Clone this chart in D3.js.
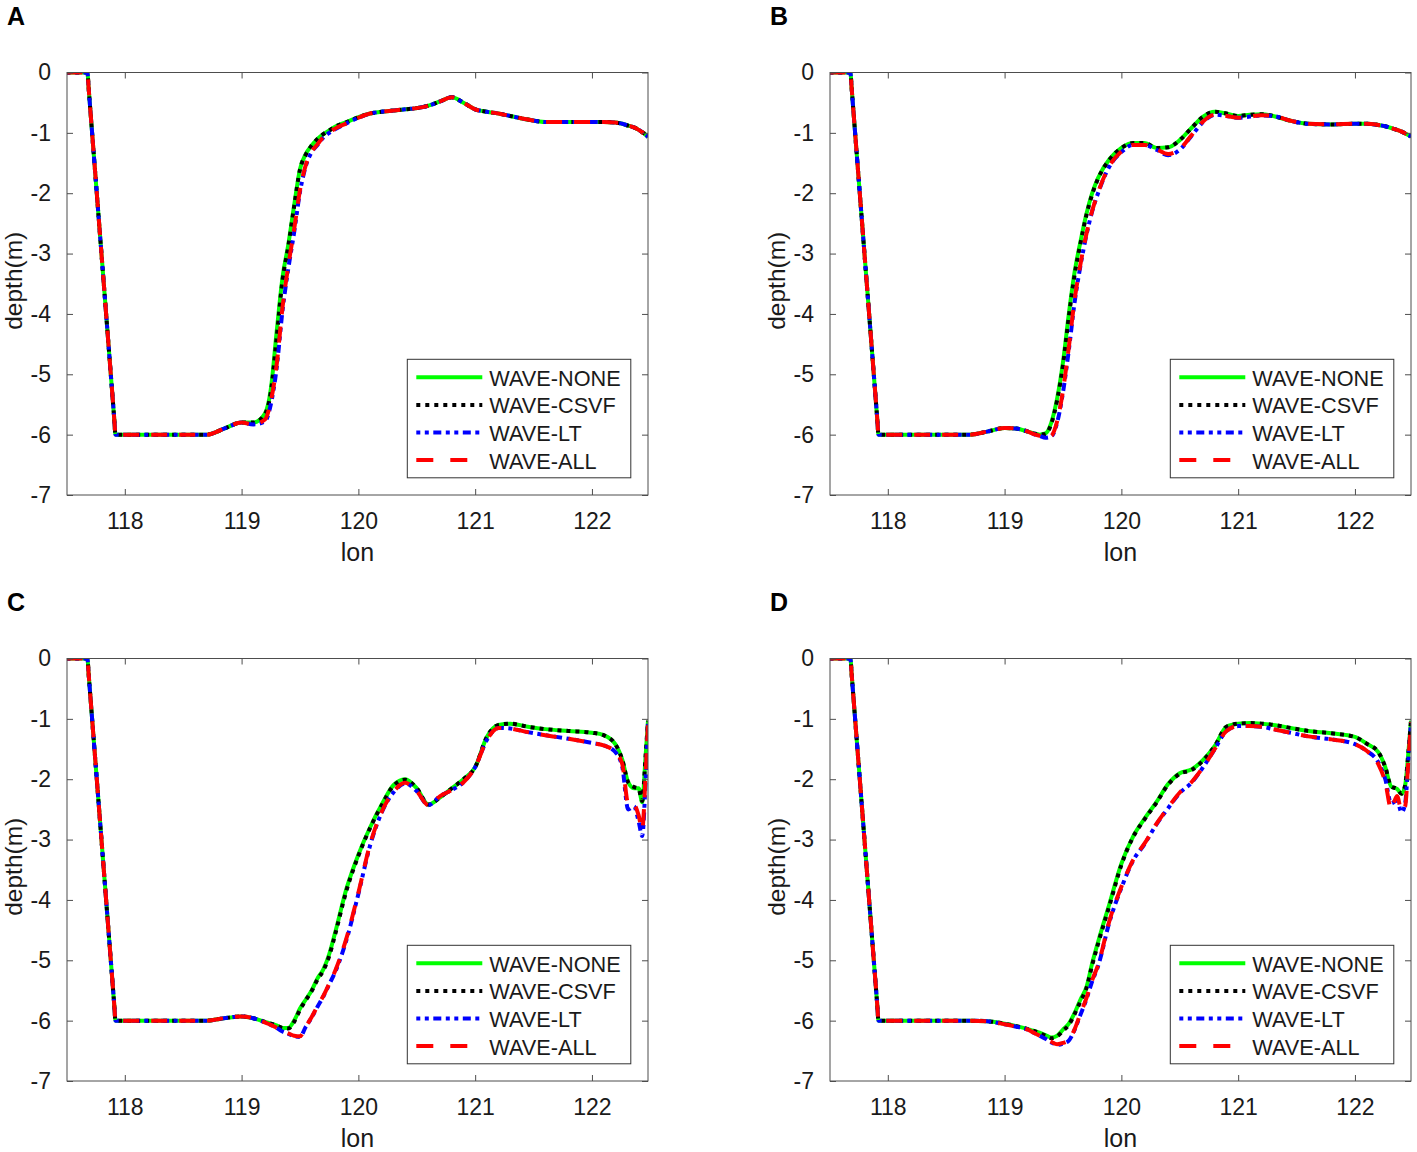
<!DOCTYPE html>
<html><head><meta charset="utf-8">
<script src="https://cdn.jsdelivr.net/npm/d3@7"></script>
<style>
body{margin:0;background:#fff;}
text{font-family:"Liberation Sans",Arial,Helvetica,sans-serif;}
</style></head>
<body>
<svg id="chart" width="1417" height="1152"></svg>
<script>
// ---------- data ----------
const lon = [117.50,117.68,117.69,117.91,117.92,118.30,118.70,118.85,119.00,119.10,
  119.20,119.25,119.30,119.35,119.40,119.45,119.50,119.55,119.60,119.65,
  119.70,119.75,119.80,119.90,120.00,120.10,120.20,120.30,120.40,120.50,
  120.60,120.70,120.80,120.90,121.00,121.10,121.20,121.30,121.45,121.60,
  121.80,122.00,122.10,122.20,122.26,122.31,122.36,122.40,122.43,122.46,122.48];

const xTicks = [118,119,120,121,122];
const yTicks = [0,-1,-2,-3,-4,-5,-6,-7];
const seriesNames = ["WAVE-NONE","WAVE-CSVF","WAVE-LT","WAVE-ALL"];
const panelLabels = ["A","B","C","D"];

// Panel A
const A_none = [0,0,-0.25,-5.75,-6,-6,-6,-5.9,-5.8,-5.8,
  -5.65,-5.25,-4.3,-3.4,-2.85,-2.2,-1.6,-1.35,-1.21,-1.1,
  -1.02,-0.96,-0.9,-0.82,-0.74,-0.68,-0.65,-0.63,-0.61,-0.59,
  -0.55,-0.48,-0.41,-0.5,-0.61,-0.65,-0.68,-0.72,-0.78,-0.82,
  -0.82,-0.82,-0.82,-0.83,-0.85,-0.88,-0.91,-0.95,-0.99,-1.03,-1.07];
const A_csvf = [0,0,-0.25,-5.75,-6,-6,-6,-5.9,-5.8,-5.8,
  -5.66,-5.3,-4.4,-3.45,-2.88,-2.22,-1.61,-1.36,-1.21,-1.1,
  -1.02,-0.96,-0.9,-0.82,-0.74,-0.68,-0.65,-0.63,-0.61,-0.59,
  -0.55,-0.48,-0.41,-0.5,-0.61,-0.65,-0.68,-0.72,-0.78,-0.82,
  -0.82,-0.82,-0.82,-0.83,-0.85,-0.88,-0.91,-0.95,-0.99,-1.03,-1.07];
const A_lt = [0,0,-0.25,-5.75,-6,-6,-6,-5.9,-5.8,-5.83,
  -5.78,-5.5,-4.9,-3.95,-3.25,-2.65,-1.98,-1.55,-1.32,-1.2,
  -1.08,-1.0,-0.94,-0.84,-0.75,-0.68,-0.65,-0.63,-0.61,-0.59,
  -0.55,-0.48,-0.41,-0.5,-0.61,-0.65,-0.68,-0.72,-0.78,-0.82,
  -0.82,-0.82,-0.82,-0.83,-0.85,-0.88,-0.91,-0.95,-0.99,-1.03,-1.07];
const A_all = [0,0,-0.25,-5.75,-6,-6,-6,-5.9,-5.8,-5.83,
  -5.75,-5.45,-4.85,-3.9,-3.2,-2.6,-1.95,-1.53,-1.31,-1.19,
  -1.07,-0.99,-0.93,-0.84,-0.75,-0.68,-0.65,-0.63,-0.61,-0.59,
  -0.55,-0.48,-0.41,-0.5,-0.61,-0.65,-0.68,-0.72,-0.78,-0.82,
  -0.82,-0.82,-0.82,-0.83,-0.85,-0.88,-0.91,-0.95,-0.99,-1.03,-1.07];

// Panel B
const B_none = [0,0,-0.25,-5.75,-6,-6,-6,-5.95,-5.89,-5.9,
  -5.95,-5.98,-6.0,-5.98,-5.8,-5.4,-4.8,-4.0,-3.3,-2.8,
  -2.35,-2.0,-1.75,-1.43,-1.25,-1.17,-1.17,-1.25,-1.24,-1.12,
  -0.92,-0.73,-0.65,-0.68,-0.72,-0.7,-0.69,-0.72,-0.8,-0.85,
  -0.86,-0.85,-0.85,-0.87,-0.89,-0.92,-0.95,-0.98,-1.01,-1.04,-1.06];
const B_csvf = [0,0,-0.25,-5.75,-6,-6,-6,-5.95,-5.89,-5.9,
  -5.95,-5.98,-6.0,-5.99,-5.82,-5.43,-4.85,-4.05,-3.35,-2.83,
  -2.37,-2.02,-1.76,-1.44,-1.25,-1.17,-1.17,-1.25,-1.24,-1.12,
  -0.92,-0.73,-0.65,-0.68,-0.72,-0.7,-0.69,-0.72,-0.8,-0.85,
  -0.86,-0.85,-0.85,-0.87,-0.89,-0.92,-0.95,-0.98,-1.01,-1.04,-1.06];
const B_lt = [0,0,-0.25,-5.75,-6,-6,-6,-5.95,-5.89,-5.9,
  -5.95,-5.99,-6.02,-6.05,-6.03,-5.8,-5.3,-4.6,-3.8,-3.2,
  -2.7,-2.3,-2.0,-1.55,-1.32,-1.2,-1.2,-1.28,-1.37,-1.28,
  -1.05,-0.82,-0.7,-0.72,-0.75,-0.73,-0.71,-0.72,-0.8,-0.85,
  -0.86,-0.85,-0.85,-0.87,-0.89,-0.92,-0.95,-0.98,-1.01,-1.04,-1.06];
const B_all = [0,0,-0.25,-5.75,-6,-6,-6,-5.95,-5.89,-5.9,
  -5.95,-5.99,-6.02,-6.05,-6.02,-5.78,-5.27,-4.55,-3.76,-3.17,
  -2.68,-2.29,-1.99,-1.54,-1.31,-1.2,-1.2,-1.27,-1.35,-1.27,
  -1.04,-0.81,-0.7,-0.72,-0.75,-0.73,-0.71,-0.72,-0.8,-0.85,
  -0.86,-0.85,-0.85,-0.87,-0.89,-0.92,-0.95,-0.98,-1.01,-1.04,-1.06];

// Panel C
const C_none = [0,0,-0.25,-5.75,-6,-6,-6,-5.96,-5.93,-5.96,
  -6.02,-6.05,-6.08,-6.12,-6.12,-6.0,-5.8,-5.65,-5.5,-5.3,
  -5.15,-4.9,-4.55,-3.8,-3.25,-2.8,-2.42,-2.1,-2.0,-2.15,
  -2.42,-2.3,-2.15,-2.0,-1.8,-1.3,-1.1,-1.08,-1.13,-1.17,
  -1.2,-1.23,-1.27,-1.42,-1.68,-2.05,-2.15,-2.15,-2.38,-1.6,-1.03];
const C_csvf = [0,0,-0.25,-5.75,-6,-6,-6,-5.96,-5.93,-5.96,
  -6.02,-6.05,-6.08,-6.12,-6.13,-6.02,-5.82,-5.66,-5.51,-5.32,
  -5.17,-4.93,-4.58,-3.83,-3.27,-2.81,-2.43,-2.11,-2.01,-2.15,
  -2.42,-2.3,-2.15,-2.0,-1.8,-1.3,-1.1,-1.08,-1.13,-1.17,
  -1.2,-1.23,-1.27,-1.42,-1.68,-2.05,-2.13,-2.16,-2.36,-1.6,-1.03];
const C_lt = [0,0,-0.25,-5.75,-6,-6,-6,-5.96,-5.93,-5.96,
  -6.03,-6.07,-6.12,-6.18,-6.22,-6.26,-6.27,-6.1,-5.95,-5.77,
  -5.6,-5.4,-5.2,-4.65,-3.9,-3.1,-2.55,-2.22,-2.07,-2.2,
  -2.43,-2.28,-2.18,-2.05,-1.8,-1.35,-1.15,-1.16,-1.22,-1.27,
  -1.33,-1.4,-1.44,-1.55,-1.8,-2.5,-2.45,-2.7,-2.94,-2.0,-1.03];
const C_all = [0,0,-0.25,-5.75,-6,-6,-6,-5.96,-5.93,-5.96,
  -6.03,-6.07,-6.12,-6.17,-6.21,-6.25,-6.26,-6.1,-5.94,-5.76,
  -5.59,-5.39,-5.18,-4.62,-3.88,-3.08,-2.54,-2.21,-2.06,-2.2,
  -2.43,-2.28,-2.18,-2.05,-1.8,-1.35,-1.15,-1.16,-1.22,-1.27,
  -1.33,-1.4,-1.44,-1.55,-1.75,-2.4,-2.42,-2.6,-2.83,-1.9,-1.05];

// Panel D
const D_none = [0,0,-0.25,-5.75,-6,-6,-6,-6.01,-6.05,-6.09,
  -6.14,-6.17,-6.2,-6.24,-6.28,-6.25,-6.15,-6.05,-5.87,-5.65,
  -5.45,-5.05,-4.7,-4.05,-3.4,-2.95,-2.65,-2.38,-2.08,-1.9,
  -1.84,-1.68,-1.45,-1.13,-1.08,-1.07,-1.08,-1.1,-1.15,-1.2,
  -1.24,-1.3,-1.41,-1.55,-1.8,-2.12,-2.16,-2.24,-2.1,-1.5,-1.03];
const D_csvf = [0,0,-0.25,-5.75,-6,-6,-6,-6.01,-6.05,-6.09,
  -6.14,-6.17,-6.21,-6.25,-6.29,-6.26,-6.17,-6.07,-5.89,-5.68,
  -5.47,-5.08,-4.73,-4.08,-3.42,-2.96,-2.66,-2.39,-2.09,-1.91,
  -1.85,-1.69,-1.45,-1.13,-1.08,-1.07,-1.08,-1.1,-1.15,-1.2,
  -1.24,-1.3,-1.41,-1.55,-1.8,-2.12,-2.16,-2.24,-2.1,-1.5,-1.03];
const D_lt = [0,0,-0.25,-5.75,-6,-6,-6,-6.01,-6.06,-6.1,
  -6.15,-6.2,-6.25,-6.3,-6.36,-6.4,-6.38,-6.33,-6.15,-5.9,
  -5.65,-5.35,-5.1,-4.35,-3.8,-3.35,-3.07,-2.75,-2.48,-2.23,
  -2.06,-1.8,-1.5,-1.2,-1.12,-1.12,-1.13,-1.17,-1.23,-1.29,
  -1.34,-1.42,-1.53,-1.72,-2.0,-2.4,-2.35,-2.55,-2.4,-1.6,-1.05];
const D_all = [0,0,-0.25,-5.75,-6,-6,-6,-6.01,-6.06,-6.1,
  -6.15,-6.2,-6.25,-6.3,-6.35,-6.39,-6.37,-6.32,-6.14,-5.88,
  -5.63,-5.33,-5.08,-4.33,-3.78,-3.34,-3.06,-2.74,-2.47,-2.22,
  -2.05,-1.8,-1.5,-1.2,-1.12,-1.12,-1.13,-1.17,-1.23,-1.29,
  -1.34,-1.42,-1.53,-1.75,-2.05,-2.49,-2.28,-2.52,-2.45,-1.6,-1.05];

const panelData = [
  [A_none,A_csvf,A_lt,A_all],
  [B_none,B_csvf,B_lt,B_all],
  [C_none,C_csvf,C_lt,C_all],
  [D_none,D_csvf,D_lt,D_all]
];

// ---------- layout & style ----------
const W = 581, H = 422.5;
const origins = [[67,72.5],[830,72.5],[67,658.5],[830,658.5]];
const styles = [
  {color:"#00ff00", width:4, dash:null},
  {color:"#000000", width:4, dash:"4,5"},
  {color:"#0000ff", width:4, dash:"4,4.5,4,4.5,8,4.5"},
  {color:"#ff0000", width:4, dash:"16,12"}
];
const axisColor = "#4d4d4d";
const textColor = "#1a1a1a";
const FONT = '"Liberation Sans",Arial,Helvetica,sans-serif';

const svg = d3.select("#chart");
const x = d3.scaleLinear().domain([117.505,122.48]).range([0,W]);
const y = d3.scaleLinear().domain([-7,0]).range([H,0]);
const line = d3.line().x(d=>x(d[0])).y(d=>y(d[1])).curve(d3.curveMonotoneX);

svg.append("defs").append("clipPath").attr("id","clip")
  .append("rect").attr("x",0).attr("y",0).attr("width",W).attr("height",H);

panelData.forEach((series,pi)=>{
  const [ox,oy] = origins[pi];
  const g = svg.append("g").attr("transform",`translate(${ox},${oy})`);

  // lines
  const lg = g.append("g").attr("clip-path","url(#clip)");
  series.forEach((vals,si)=>{
    const st = styles[si];
    const pts = lon.map((l,i)=>[l,vals[i]]);
    lg.append("path").datum(pts).attr("d",line)
      .attr("fill","none").attr("stroke",st.color)
      .attr("stroke-width",st.width)
      .attr("stroke-dasharray",st.dash)
      .attr("stroke-linejoin","round");
  });

  // axes
  const styleAxis = (sel, labels)=>{
    sel.select(".domain").remove();
    sel.selectAll(".tick line").attr("stroke",axisColor).attr("stroke-width",1);
    if(labels){
      sel.selectAll(".tick text").attr("fill",textColor).style("font-size","23px")
        .style("font-family",FONT);
    } else sel.selectAll(".tick text").remove();
  };
  g.append("g").attr("transform",`translate(0,${H})`)
    .call(d3.axisBottom(x).tickValues(xTicks).tickSizeInner(-6).tickSizeOuter(0).tickPadding(17.7).tickFormat(d3.format("d")))
    .call(s=>styleAxis(s,true));
  g.append("g")
    .call(d3.axisTop(x).tickValues(xTicks).tickSizeInner(-6).tickSizeOuter(0))
    .call(s=>styleAxis(s,false));
  g.append("g")
    .call(d3.axisLeft(y).tickValues(yTicks).tickSizeInner(-6).tickSizeOuter(0).tickPadding(16).tickFormat(d=>d===0?"0":String(d)))
    .call(s=>styleAxis(s,true));
  g.append("g").attr("transform",`translate(${W},0)`)
    .call(d3.axisRight(y).tickValues(yTicks).tickSizeInner(-6).tickSizeOuter(0))
    .call(s=>styleAxis(s,false));

  g.append("rect").attr("x",0).attr("y",0).attr("width",W).attr("height",H)
    .attr("fill","none").attr("stroke",axisColor).attr("stroke-width",1);

  // axis labels
  g.append("text").attr("x",W/2).attr("y",H+66).attr("text-anchor","middle")
    .attr("fill",textColor).style("font-size","25px").text("lon");
  g.append("text").attr("transform",`translate(-45.5,${H/2-3}) rotate(-90)`)
    .attr("text-anchor","middle").attr("fill",textColor).style("font-size","24.5px").text("depth(m)");

  // panel letter
  g.append("text").attr("x",-60).attr("y",-47.5).attr("fill","#000")
    .style("font-size","25px").style("font-weight","bold").text(panelLabels[pi]);

  // legend
  const lgX = 340.3, lgY = 286.8, lgW = 223.5, lgH = 118.5;
  const leg = g.append("g").attr("transform",`translate(${lgX},${lgY})`);
  leg.append("rect").attr("width",lgW).attr("height",lgH)
    .attr("fill","#fff").attr("stroke","#333").attr("stroke-width",1);
  seriesNames.forEach((nm,si)=>{
    const st = styles[si];
    const ry = 18 + si*27.6;
    leg.append("line").attr("x1",9).attr("x2",75).attr("y1",ry).attr("y2",ry)
      .attr("stroke",st.color).attr("stroke-width",st.width)
      .attr("stroke-dasharray",si===3?"17,17":st.dash);
    leg.append("text").attr("x",82).attr("y",ry+1).attr("dominant-baseline","central")
      .attr("fill",textColor).style("font-size","21.7px").text(nm);
  });
});
</script>
</body></html>
